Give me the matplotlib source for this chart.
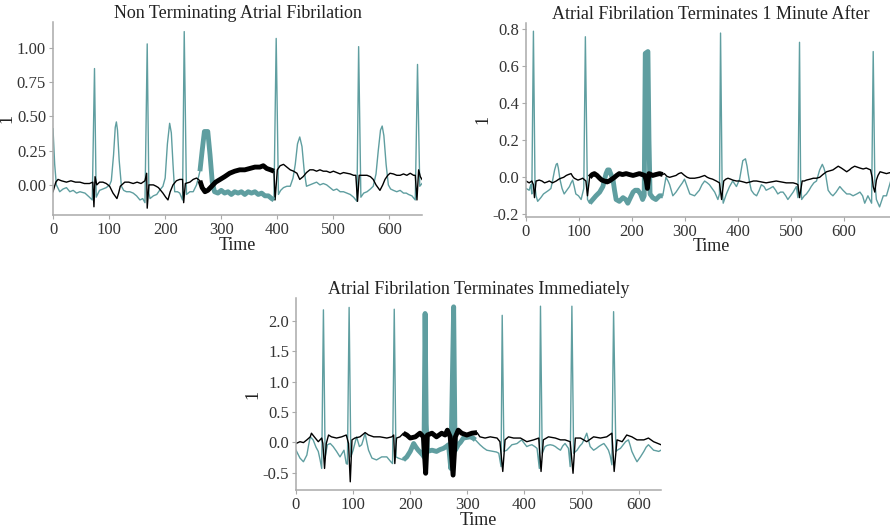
import matplotlib
matplotlib.use('Agg')
import matplotlib.pyplot as plt
import numpy as np

plt.rcParams['font.family'] = ['Liberation Serif', 'DejaVu Serif']

TEAL = '#5f9ea0'

# ---- Non Terminating Atrial Fibrilation ----
a_teal_t = [0, 3, 6, 12, 18, 24, 30, 36, 42, 48, 57, 65, 70, 74, 77, 83, 89, 95, 101, 104, 108, 111,
            113, 115, 118, 122, 126, 131, 137, 143, 149, 155, 160, 164, 168, 171, 173, 179, 185, 190,
            196, 200, 204, 208, 211, 214, 217, 222, 226, 231, 234, 238, 244, 250, 256, 262, 266, 270,
            276, 280, 284, 288, 294, 300, 306, 312, 318, 324, 330, 336, 342, 348, 354, 360, 366, 372,
            378, 384, 390, 394, 398, 402, 406, 411, 417, 423, 428, 432, 436, 440, 444, 448, 452, 458,
            464, 470, 476, 482, 488, 494, 500, 506, 512, 518, 524, 530, 536, 542, 545, 549, 554, 560,
            566, 571, 576, 580, 584, 587, 590, 594, 598, 602, 607, 613, 619, 625, 630, 634, 640, 646,
            650, 654, 658]
a_teal_v = [0.41, 0.15, 0.0, -0.05, -0.03, -0.02, -0.05, -0.04, -0.06, -0.05, -0.06, -0.09, -0.11,
            0.85, -0.09, -0.04, -0.03, -0.02, 0.0, 0.03, 0.22, 0.42, 0.46, 0.40, 0.18, -0.01, -0.04,
            -0.05, -0.05, -0.06, -0.08, -0.11, -0.10, -0.13, 1.03, -0.06, -0.10, -0.08, -0.07, -0.04,
            -0.01, 0.05, 0.30, 0.45, 0.38, 0.15, -0.05, -0.05, -0.06, -0.11, 1.12, -0.07, -0.05, -0.05,
            0.0, 0.10, 0.25, 0.39, 0.39, 0.22, 0.02, -0.05, -0.06, -0.04, -0.06, -0.05, -0.07, -0.05,
            -0.06, -0.05, -0.07, -0.05, -0.06, -0.05, -0.07, -0.06, -0.08, -0.08, -0.10, -0.11, 1.07,
            -0.07, -0.04, -0.02, -0.01, -0.01, 0.05, 0.15, 0.30, 0.35, 0.28, 0.10, -0.01, 0.0, 0.01,
            0.02, 0.0, 0.01, 0.0, -0.02, -0.04, -0.03, -0.05, -0.05, -0.06, -0.07, -0.09, -0.12, 1.01,
            -0.09, -0.06, -0.05, -0.03, -0.01, 0.08, 0.25, 0.40, 0.43, 0.36, 0.15, 0.0, -0.03, -0.04,
            -0.05, -0.04, -0.06, -0.06, -0.07, -0.08, -0.11, 0.88, -0.01, 0.01]
a_black_t = [0, 5, 9, 15, 24, 32, 40, 48, 56, 65, 71, 73, 75, 78, 83, 89, 95, 101, 107, 114, 117, 120,
             128, 135, 143, 150, 157, 164, 167, 168, 171, 179, 184, 188, 192, 196, 201, 205, 209, 214,
             220, 226, 231, 233, 236, 244, 250, 256, 262, 266, 271, 276, 283, 290, 298, 306, 315, 324,
             333, 342, 351, 360, 369, 375, 381, 388, 394, 396, 400, 405, 411, 417, 423, 429, 435, 440,
             446, 452, 458, 464, 470, 476, 482, 488, 494, 500, 506, 512, 518, 524, 530, 536, 540, 543,
             546, 553, 560, 566, 571, 576, 583, 588, 592, 597, 601, 607, 613, 619, 625, 631, 637, 643,
             646, 649, 652, 655, 658]
a_black_v = [-0.05, 0.02, 0.04, 0.03, 0.02, 0.03, 0.02, 0.02, 0.01, 0.01, 0.02, -0.16, 0.06, 0.0,
             0.02, 0.02, 0.01, -0.01, -0.06, -0.10, -0.06, -0.01, 0.02, 0.02, 0.01, 0.02, 0.01, 0.03,
             0.085, -0.17, 0.0, 0.0, -0.01, -0.02, -0.04, -0.06, -0.09, -0.11, -0.05, 0.0, 0.03, 0.04,
             0.04, -0.13, 0.01, 0.02, 0.04, 0.05, 0.03, -0.02, -0.05, -0.04, -0.01, 0.02, 0.04, 0.06,
             0.085, 0.10, 0.11, 0.11, 0.12, 0.13, 0.13, 0.14, 0.12, 0.11, 0.10, -0.11, 0.11, 0.14, 0.15,
             0.13, 0.11, 0.10, 0.085, 0.04, 0.06, 0.09, 0.11, 0.11, 0.10, 0.11, 0.10, 0.10, 0.09, 0.10,
             0.09, 0.08, 0.09, 0.085, 0.08, 0.07, 0.07, -0.12, 0.07, 0.07, 0.07, 0.06, 0.04, 0.0, -0.04,
             0.0, 0.04, 0.07, 0.085, 0.08, 0.07, 0.07, 0.08, 0.07, 0.085, 0.07, 0.07, -0.11, 0.11, 0.06,
             0.04]
a_window = (262, 394)

# ---- Atrial Fibrilation Terminates 1 Minute After ----
b_teal_t = [0, 6, 9, 11, 14, 17, 19, 22, 28, 33, 38, 43, 47, 50, 54, 57, 59, 61, 64, 68, 72, 77, 82,
            85, 88, 91, 94, 99, 104, 109, 112, 116, 120, 126, 132, 139, 145, 151, 154, 157, 161, 164,
            167, 170, 176, 183, 188, 192, 197, 202, 206, 211, 216, 220, 223, 225, 230, 232, 234, 239,
            245, 252, 258, 264, 268, 271, 277, 283, 290, 295, 299, 304, 309, 318, 327, 332, 337, 342,
            346, 351, 356, 362, 365, 367, 370, 372, 378, 384, 390, 397, 403, 406, 409, 414, 417, 419,
            422, 425, 430, 435, 440, 444, 449, 453, 460, 466, 471, 475, 480, 485, 490, 494, 499, 504,
            510, 513, 516, 518, 520, 525, 529, 534, 538, 543, 548, 551, 554, 559, 562, 565, 570, 575,
            579, 585, 592, 598, 605, 611, 617, 624, 630, 635, 639, 645, 652, 655, 658, 661, 667, 674,
            680, 685, 690, 698]
b_teal_v = [-0.06, -0.07, -0.04, -0.09, 0.79, -0.05, -0.10, -0.13, -0.11, -0.09, -0.08, -0.07, -0.06,
            -0.02, 0.04, 0.07, 0.075, 0.05, -0.01, -0.06, -0.09, -0.07, -0.05, -0.03, -0.015, -0.05,
            -0.09, -0.10, -0.12, -0.06, 0.76, -0.12, -0.14, -0.12, -0.10, -0.08, -0.05, 0.02, 0.04,
            0.04, 0.01, -0.01, -0.07, -0.12, -0.13, -0.11, -0.12, -0.14, -0.11, -0.08, -0.07, -0.07,
            -0.09, -0.12, -0.10, 0.67, 0.68, 0.2, -0.09, -0.11, -0.12, -0.10, -0.10, 0.0, -0.02, -0.04,
            -0.10, -0.08, -0.05, -0.03, -0.01, -0.05, -0.09, -0.10, -0.07, -0.04, -0.02, -0.03, -0.04,
            -0.06, -0.08, -0.12, -0.09, 0.78, -0.05, -0.14, -0.09, -0.05, -0.02, -0.05, -0.01, 0.04,
            0.09, 0.10, 0.06, 0.02, -0.03, -0.07, -0.09, -0.10, -0.07, -0.04, -0.05, -0.07, -0.06,
            -0.05, -0.07, -0.09, -0.08, -0.08, -0.10, -0.12, -0.10, -0.08, -0.05, -0.11, 0.73, 0.0,
            -0.12, -0.10, -0.09, -0.07, -0.05, -0.03, -0.02, 0.01, 0.04, 0.07, 0.05, 0.02, -0.07, -0.09,
            -0.10, -0.08, -0.05, -0.07, -0.09, -0.09, -0.10, -0.09, -0.08, -0.10, -0.14, -0.10, -0.14,
            0.68, -0.02, -0.12, -0.16, -0.10, -0.10, -0.05, 0.0, 0.02]
b_black_t = [0, 6, 11, 14, 16, 19, 25, 30, 35, 40, 44, 50, 57, 62, 66, 71, 76, 80, 85, 88, 91, 98, 103,
             107, 113, 116, 120, 125, 129, 134, 139, 143, 148, 153, 157, 162, 167, 171, 176, 182, 189,
             195, 202, 208, 214, 219, 224, 227, 229, 232, 239, 245, 252, 258, 261, 266, 271, 277, 283,
             288, 293, 299, 304, 309, 318, 327, 332, 337, 342, 346, 352, 359, 365, 369, 373, 377, 381,
             386, 390, 397, 403, 410, 416, 423, 429, 435, 444, 453, 462, 472, 481, 491, 498, 504, 510,
             513, 516, 521, 525, 529, 536, 542, 548, 554, 560, 567, 573, 579, 584, 589, 595, 600, 605,
             610, 614, 620, 625, 630, 636, 642, 646, 650, 653, 655, 658, 661, 664, 668, 674, 680, 686,
             690, 698]
b_black_v = [-0.02, -0.03, -0.02, -0.04, -0.11, -0.02, -0.015, -0.02, -0.03, -0.025, -0.02, -0.03,
             -0.02, -0.01, -0.005, 0.0, 0.01, 0.015, 0.02, 0.005, -0.005, -0.015, -0.01, -0.005, -0.02,
             -0.10, 0.0, 0.015, 0.02, 0.01, -0.005, -0.015, -0.02, -0.025, -0.02, -0.01, 0.0, 0.01,
             0.02, 0.015, 0.02, 0.015, 0.01, 0.015, 0.02, 0.015, 0.01, -0.02, -0.06, 0.02, 0.01, 0.015,
             0.02, 0.015, 0.02, 0.005, 0.0, 0.005, 0.01, 0.02, 0.025, 0.01, 0.0, -0.005, -0.005, 0.0,
             0.005, 0.01, 0.0, -0.005, -0.01, -0.02, -0.03, -0.12, -0.02, -0.01, -0.005, -0.01, -0.015,
             -0.02, -0.02, -0.025, -0.03, -0.025, -0.02, -0.02, -0.025, -0.03, -0.025, -0.02, -0.025,
             -0.03, -0.03, -0.03, -0.035, -0.04, -0.11, -0.02, -0.02, -0.015, -0.01, -0.005, -0.005,
             0.0, 0.015, 0.03, 0.035, 0.04, 0.05, 0.06, 0.05, 0.04, 0.03, 0.04, 0.05, 0.06, 0.055, 0.05,
             0.045, 0.05, 0.045, 0.04, 0.0, -0.05, -0.08, -0.015, 0.01, 0.03, 0.025, 0.02, 0.025, 0.02,
             0.02]
b_window = (118, 260)

# ---- Atrial Fibrilation Terminates Immediately ----
c_teal_t = [0, 7, 13, 19, 22, 25, 30, 35, 39, 42, 45, 48, 51, 55, 60, 65, 71, 77, 84, 88, 90, 93, 96,
            100, 106, 111, 115, 118, 121, 124, 127, 133, 141, 150, 159, 166, 169, 172, 175, 179, 188,
            194, 200, 206, 210, 214, 222, 224, 226, 228, 230, 238, 246, 252, 258, 263, 267, 271, 276,
            278, 279, 284, 288, 293, 299, 305, 310, 314, 318, 322, 328, 334, 340, 346, 351, 355, 359,
            361, 364, 369, 374, 378, 383, 387, 391, 395, 400, 404, 409, 413, 418, 422, 426, 428, 431,
            436, 440, 445, 450, 454, 458, 463, 467, 471, 474, 477, 480, 483, 486, 492, 497, 501, 505,
            509, 512, 515, 521, 526, 530, 535, 539, 543, 547, 550, 553, 556, 560, 564, 568, 573, 577,
            582, 585, 588, 593, 597, 603, 609, 613, 617, 621, 626, 631, 635, 639]
c_teal_v = [-0.13, -0.26, -0.32, -0.21, -0.05, 0.09, 0.04, -0.08, -0.15, -0.28, -0.43, 2.18, -0.24,
            -0.04, -0.02, -0.07, -0.15, -0.24, -0.13, -0.35, -0.36, 2.22, -0.24, -0.13, 0.09, -0.07,
            -0.04, 0.05, 0.15, 0.0, -0.13, -0.26, -0.29, -0.24, -0.24, -0.32, -0.35, 2.19, -0.24,
            -0.26, -0.29, -0.24, -0.15, -0.02, -0.08, -0.13, -0.21, -0.24, 2.12, 0.3, -0.15, -0.13,
            -0.15, -0.12, -0.10, -0.07, -0.04, -0.43, 2.23, 0.3, -0.13, -0.04, 0.0, 0.07, 0.08, 0.09,
            0.07, 0.04, 0.0, -0.04, -0.09, -0.13, -0.14, -0.15, -0.16, -0.18, -0.40, 2.09, -0.15, -0.13,
            -0.08, -0.04, -0.03, -0.02, 0.01, 0.04, -0.02, -0.07, -0.05, -0.04, -0.07, -0.10, -0.43,
            2.24, -0.18, -0.07, -0.05, -0.04, -0.05, -0.07, -0.10, -0.13, -0.06, -0.02, -0.06, -0.10,
            -0.40, 2.24, -0.18, -0.13, -0.06, -0.02, 0.06, 0.15, 0.04, -0.07, -0.13, -0.10, -0.07,
            -0.04, -0.02, -0.07, -0.13, -0.22, -0.37, 2.15, -0.15, -0.12, -0.10, -0.04, 0.01, 0.04,
            -0.05, -0.15, -0.25, -0.32, -0.24, -0.15, -0.08, -0.04, -0.08, -0.13, -0.14, -0.15, -0.13]
c_black_t = [0, 7, 13, 19, 25, 27, 32, 39, 45, 47, 50, 53, 57, 62, 71, 80, 88, 92, 95, 98, 103, 112,
             121, 127, 136, 147, 159, 168, 171, 173, 176, 182, 188, 194, 200, 209, 217, 223, 227, 230,
             238, 246, 255, 261, 265, 270, 275, 279, 284, 290, 299, 308, 317, 322, 331, 340, 352, 357,
             362, 366, 372, 381, 393, 404, 416, 425, 429, 433, 442, 454, 463, 471, 480, 485, 489, 498,
             509, 521, 533, 544, 553, 557, 562, 571, 579, 588, 597, 609, 617, 626, 639]
c_black_v = [-0.02, 0.01, -0.005, 0.04, 0.09, 0.15, 0.09, 0.01, 0.07, -0.02, -0.43, -0.02, 0.12, 0.09,
             0.07, 0.09, 0.12, -0.02, -0.65, 0.04, 0.07, 0.09, 0.16, 0.12, 0.09, 0.09, 0.07, 0.09, 0.12,
             -0.35, 0.07, 0.09, 0.15, 0.12, 0.07, 0.09, 0.15, 0.09, -0.51, 0.12, 0.15, 0.09, 0.15, 0.12,
             0.20, 0.09, -0.54, 0.09, 0.20, 0.15, 0.12, 0.15, 0.16, 0.09, 0.07, 0.09, 0.07, 0.01, -0.48,
             0.04, 0.09, 0.07, 0.07, 0.01, 0.04, 0.07, -0.48, 0.04, 0.09, 0.07, 0.04, 0.04, 0.01, -0.51,
             0.07, 0.07, 0.01, 0.09, 0.07, 0.09, 0.15, -0.48, 0.04, 0.01, 0.12, 0.09, 0.04, 0.04, 0.07,
             0.01, -0.04]
c_window = (188, 317)


def draw(ax, title, tt, tv, bt, bv, window, xlim, ylim, yticks, fmt):
    tt, tv, bt, bv = map(np.array, (tt, tv, bt, bv))
    ax.plot(tt, tv, color=TEAL, lw=1.0, zorder=1)
    ax.plot(bt, bv, color='black', lw=1.0, zorder=2)
    m = (tt >= window[0]) & (tt <= window[1])
    ax.plot(tt[m], tv[m], color=TEAL, lw=3.5, zorder=3, solid_capstyle='butt')
    m = (bt >= window[0]) & (bt <= window[1])
    ax.plot(bt[m], bv[m], color='black', lw=3.5, zorder=4, solid_capstyle='butt')
    ax.set_xlim(*xlim)
    ax.set_ylim(*ylim)
    ax.set_xticks([0, 100, 200, 300, 400, 500, 600])
    ax.set_yticks(yticks)
    ax.set_yticklabels([fmt % y for y in yticks])
    ax.set_title(title, fontsize=13, pad=3, color='#222222')
    ax.set_xlabel('Time', fontsize=13, labelpad=-1, color='#222222')
    ax.set_ylabel('1', fontsize=13, labelpad=1, color='#222222')
    for s in ['top', 'right']:
        ax.spines[s].set_visible(False)
    for s in ['left', 'bottom']:
        ax.spines[s].set_color('#aaaaaa')
        ax.spines[s].set_linewidth(1.1)
    ax.tick_params(length=3, width=0.8, color='#aaaaaa', labelsize=12, labelcolor='#333333', pad=2)


fig = plt.figure(figsize=(8.9, 5.3), dpi=100)
ax1 = fig.add_axes([53 / 890, 315 / 530, 369 / 890, 193 / 530])
ax2 = fig.add_axes([526 / 890, 313.3 / 530, 370 / 890, 194 / 530])
ax3 = fig.add_axes([296 / 890, 40 / 530, 365 / 890, 191.7 / 530])

draw(ax1, 'Non Terminating Atrial Fibrilation', a_teal_t, a_teal_v, a_black_t, a_black_v, a_window,
     (0, 658), (-0.22, 1.19), [0.0, 0.25, 0.5, 0.75, 1.0], '%.2f')
draw(ax2, 'Atrial Fibrilation Terminates 1 Minute After', b_teal_t, b_teal_v, b_black_t, b_black_v,
     b_window, (0, 698), (-0.213, 0.836), [-0.2, 0.0, 0.2, 0.4, 0.6, 0.8], '%.1f')
draw(ax3, 'Atrial Fibrilation Terminates Immediately', c_teal_t, c_teal_v, c_black_t, c_black_v,
     c_window, (0, 639), (-0.785, 2.37), [-0.5, 0.0, 0.5, 1.0, 1.5, 2.0], '%.1f')

fig.savefig('out.png', dpi=100)
